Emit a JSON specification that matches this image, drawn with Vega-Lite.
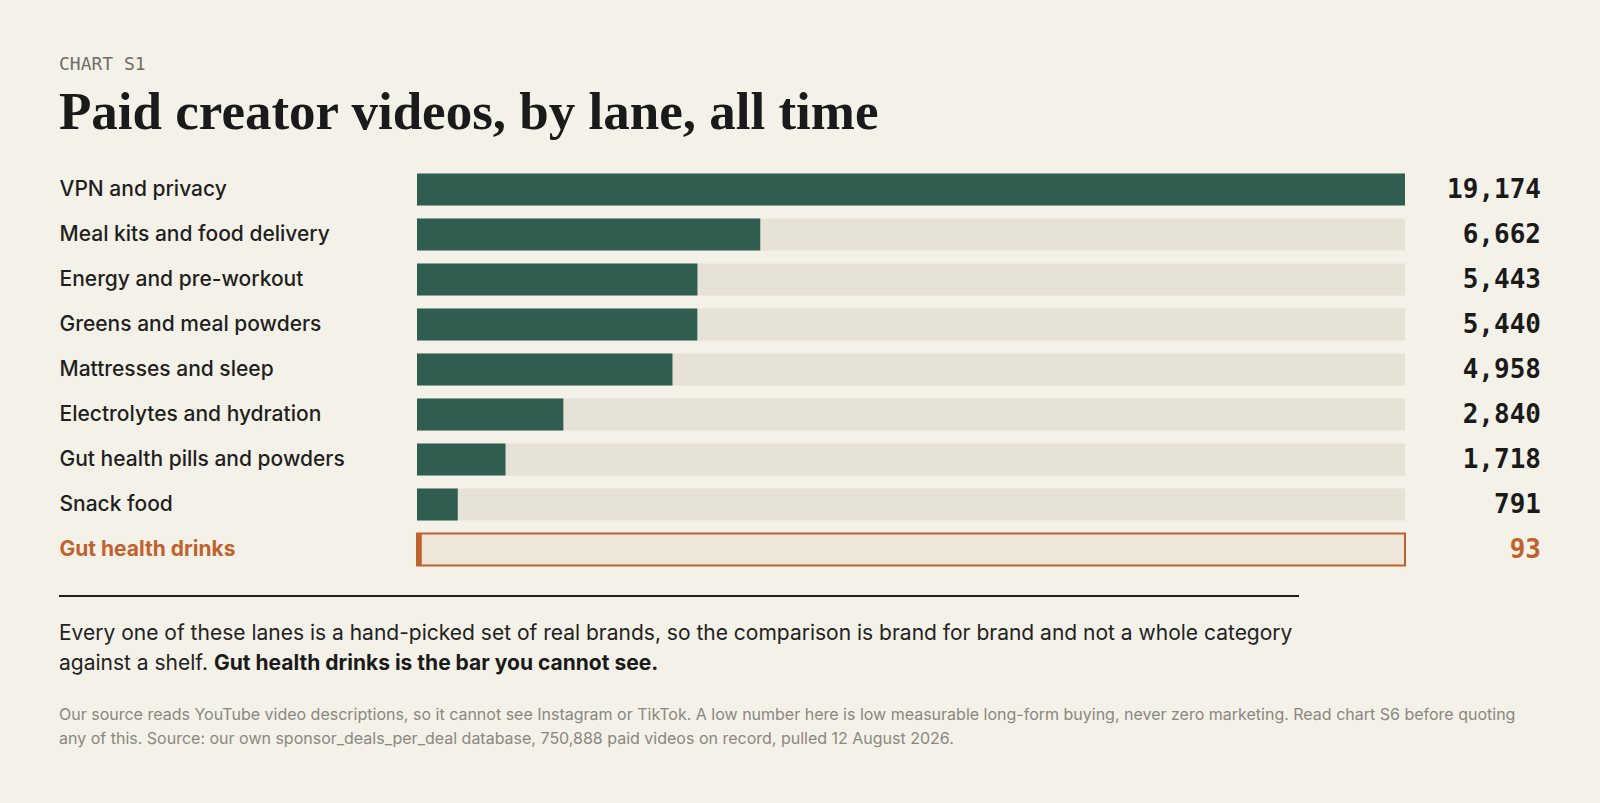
{
  "$schema": "https://vega.github.io/schema/vega-lite/v6.json",
  "background": "#f4f1e8",
  "padding": {"left": 58, "top": 56, "right": 60, "bottom": 54},
  "config": {
    "view": {"stroke": null},
    "concat": {"spacing": 23}
  },
  "vconcat": [
    {
      "title": {
        "text": "CHART S1",
        "subtitle": "Paid creator videos, by lane, all time",
        "anchor": "start",
        "frame": "bounds",
        "font": "DejaVu Sans Mono",
        "fontSize": 18,
        "fontWeight": "normal",
        "color": "#6f6c66",
        "subtitleFont": "Liberation Serif",
        "subtitleFontSize": 53,
        "subtitleFontWeight": "bold",
        "subtitleColor": "#1a1a1a",
        "subtitlePadding": 13,
        "offset": 27
      },
      "width": 988,
      "height": 405,
      "data": {
        "values": [
          {"lane": "VPN and privacy", "videos": 19174},
          {"lane": "Meal kits and food delivery", "videos": 6662},
          {"lane": "Energy and pre-workout", "videos": 5443},
          {"lane": "Greens and meal powders", "videos": 5440},
          {"lane": "Mattresses and sleep", "videos": 4958},
          {"lane": "Electrolytes and hydration", "videos": 2840},
          {"lane": "Gut health pills and powders", "videos": 1718},
          {"lane": "Snack food", "videos": 791},
          {"lane": "Gut health drinks", "videos": 93}
        ]
      },
      "encoding": {
        "y": {
          "field": "lane",
          "type": "nominal",
          "sort": null,
          "scale": {"paddingInner": 0.29, "paddingOuter": 0.145},
          "axis": {
            "title": null,
            "domain": false,
            "ticks": false,
            "tickSize": 0,
            "labelAlign": "left",
            "labelPadding": 358,
            "labelLimit": 350,
            "labelFont": "Inter",
            "labelFontSize": 21,
            "labelFontWeight": {
              "condition": {"test": "datum.value === 'Gut health drinks'", "value": "bold"},
              "value": 500
            },
            "labelColor": {
              "condition": {"test": "datum.value === 'Gut health drinks'", "value": "#c0622d"},
              "value": "#1f1f1f"
            }
          }
        }
      },
      "layer": [
        {
          "mark": {"type": "bar", "strokeWidth": 2},
          "encoding": {
            "x": {
              "datum": 19174,
              "type": "quantitative",
              "scale": {"domain": [0, 19174], "nice": false, "zero": true},
              "axis": null
            },
            "fill": {
              "condition": {"test": "datum.lane === 'Gut health drinks'", "value": "#efe6da"},
              "value": "#e6e2d6"
            },
            "stroke": {
              "condition": {"test": "datum.lane === 'Gut health drinks'", "value": "#c0622d"},
              "value": null
            }
          }
        },
        {
          "mark": {"type": "bar"},
          "encoding": {
            "x": {"field": "videos", "type": "quantitative"},
            "fill": {
              "condition": {"test": "datum.lane === 'Gut health drinks'", "value": "#c0622d"},
              "value": "#2f5e51"
            }
          }
        },
        {
          "mark": {
            "type": "text",
            "align": "right",
            "baseline": "middle",
            "dx": 136,
            "font": "DejaVu Sans Mono",
            "fontSize": 26,
            "fontWeight": "bold"
          },
          "encoding": {
            "x": {"datum": 19174, "type": "quantitative"},
            "text": {"field": "videos", "type": "quantitative", "format": ","},
            "color": {
              "condition": {"test": "datum.lane === 'Gut health drinks'", "value": "#c0622d"},
              "value": "#1a1a1a"
            }
          }
        }
      ]
    },
    {
      "width": 988,
      "height": 160,
      "data": {
        "values": [
          {"part": "body1", "text": "Every one of these lanes is a hand-picked set of real brands, so the comparison is brand for brand and not a whole category"},
          {"part": "body2", "text": "against a shelf."},
          {"part": "bold", "text": "Gut health drinks is the bar you cannot see."},
          {"part": "note1", "text": "Our source reads YouTube video descriptions, so it cannot see Instagram or TikTok. A low number here is low measurable long-form buying, never zero marketing. Read chart S6 before quoting"},
          {"part": "note2", "text": "any of this. Source: our own sponsor_deals_per_deal database, 750,888 paid videos on record, pulled 12 August 2026."}
        ]
      },
      "layer": [
        {
          "transform": [{"filter": "datum.part === 'body1'"}],
          "mark": {"type": "rule", "stroke": "#1f1f1f", "strokeWidth": 2},
          "encoding": {
            "x": {"value": -358},
            "x2": {"value": 882},
            "y": {"value": 1}
          }
        },
        {
          "transform": [{"filter": "datum.part === 'body1'"}],
          "mark": {"type": "text", "align": "left", "baseline": "alphabetic", "font": "Inter", "fontSize": 21, "color": "#222222"},
          "encoding": {"text": {"field": "text"}, "x": {"value": -358}, "y": {"value": 45}}
        },
        {
          "transform": [{"filter": "datum.part === 'body2'"}],
          "mark": {"type": "text", "align": "left", "baseline": "alphabetic", "font": "Inter", "fontSize": 21, "color": "#222222"},
          "encoding": {"text": {"field": "text"}, "x": {"value": -358}, "y": {"value": 75}}
        },
        {
          "transform": [{"filter": "datum.part === 'bold'"}],
          "mark": {"type": "text", "align": "left", "baseline": "alphabetic", "dx": 155, "font": "Inter", "fontSize": 21, "fontWeight": "bold", "color": "#1a1a1a"},
          "encoding": {"text": {"field": "text"}, "x": {"value": -358}, "y": {"value": 75}}
        },
        {
          "transform": [{"filter": "datum.part === 'note1'"}],
          "mark": {"type": "text", "align": "left", "baseline": "alphabetic", "font": "Inter", "fontSize": 16, "color": "#8a8780"},
          "encoding": {"text": {"field": "text"}, "x": {"value": -358}, "y": {"value": 125}}
        },
        {
          "transform": [{"filter": "datum.part === 'note2'"}],
          "mark": {"type": "text", "align": "left", "baseline": "alphabetic", "font": "Inter", "fontSize": 16, "color": "#8a8780"},
          "encoding": {"text": {"field": "text"}, "x": {"value": -358}, "y": {"value": 149}}
        }
      ]
    }
  ]
}
